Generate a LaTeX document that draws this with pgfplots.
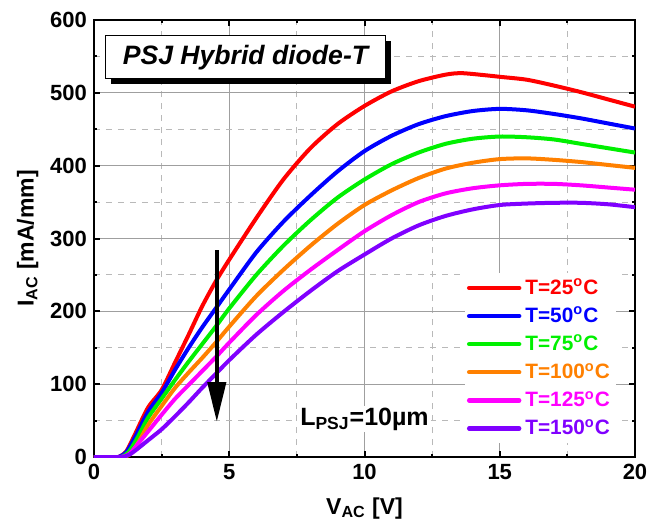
\documentclass[border=0pt]{standalone}
\usepackage{fontspec}
\setmainfont{Liberation Sans}
\usepackage{pgfplots}
\pgfplotsset{compat=1.18}
\usetikzlibrary{arrows.meta,shadows}

\definecolor{cA}{RGB}{255,0,0}
\definecolor{cB}{RGB}{0,0,255}
\definecolor{cC}{RGB}{0,240,0}
\definecolor{cD}{RGB}{255,128,0}
\definecolor{cE}{RGB}{255,0,255}
\definecolor{cF}{RGB}{128,0,255}

\begin{document}
\begin{tikzpicture}
\begin{axis}[
    name=ax,
    scale only axis,
    width=270.5pt, height=218.5pt,
    xmin=0, xmax=20, ymin=0, ymax=600,
    xtick={0,5,10,15,20},
    ytick={0,100,...,600},
    minor x tick num=1, minor y tick num=1,
    grid=both,
    major grid style={gray!75, line width=0.5pt},
    minor grid style={gray!55, dashed, line width=0.5pt},
    tick align=inside,
    major tick length=3pt, minor tick length=1.5pt,
    tick style={black, line width=1pt},
    axis line style={black, line width=1pt},
    /pgf/number format/assume math mode=true,
    ticklabel style={font=\fontsize{11}{13}\selectfont\bfseries},
    xlabel={V\textsubscript{AC} [V]},
    ylabel={I\textsubscript{AC} [mA/mm]},
    label style={font=\fontsize{11.5}{13}\selectfont\bfseries},
    xlabel style={yshift=-2pt},
    ylabel style={yshift=-1pt},
    legend cell align=left,
    legend style={at={(rel axis cs:0.685,0.03)}, anchor=south west,
        draw=none, fill=white, font=\fontsize{10.4}{12}\selectfont\bfseries,
        row sep=1pt, inner sep=1pt},
    legend image code/.code={\draw[#1, line width=2.2pt, line cap=round] (0pt,0pt) -- (25pt,0pt);},
    every axis plot/.append style={line width=2pt, smooth, tension=0.45},
]
\addplot[cA] coordinates {
(0,0) (0.5,0) (0.9,0) (1.2,8) (1.5,30) (2,68) (2.5,92) (3,130) (3.5,168) (4,207) (4.5,241) (5,271)
(6,328) (7,381) (8,424) (9,457) (10,482) (11,502) (12,516) (13,525) (13.6,527) (14.5,524) (15,522)
(16,518) (17,510) (18,501) (19,491) (20,481)};
\addlegendentry{\textcolor{cA}{T=25\textsuperscript{o}C}}
\addplot[cB] coordinates {
(0,0) (0.5,0) (0.9,0) (1.2,7) (1.5,26) (2,62) (2.5,88) (3,120) (3.5,150) (4,178) (4.5,204) (5,230)
(6,281) (7,323) (8,359) (9,392) (10,420) (11,441) (12,457) (13,468) (14,475) (15,478) (16,476)
(17,471) (18,465) (19,458) (20,451)};
\addlegendentry{\textcolor{cB}{T=50\textsuperscript{o}C}}
\addplot[cC] coordinates {
(0,0) (0.5,0) (1.0,0) (1.3,8) (1.6,26) (2,54) (2.5,80) (3,106) (3.5,131) (4,155) (4.5,179) (5,204)
(6,250) (7,290) (8,325) (9,356) (10,381) (11,402) (12,418) (13,430) (14,437) (15,440) (16,439)
(17,436) (18,430) (19,424) (20,418)};
\addlegendentry{\textcolor{cC}{T=75\textsuperscript{o}C}}
\addplot[cD] coordinates {
(0,0) (0.5,0) (1.1,0) (1.4,6) (1.7,24) (2,44) (2.5,70) (3,95) (3.5,116) (4,136) (4.5,157) (5,179)
(6,221) (7,257) (8,290) (9,320) (10,346) (11,366) (12,383) (13,396) (14,404) (15,409) (16,410)
(17,408) (18,405) (19,401) (20,397)};
\addlegendentry{\textcolor{cD}{T=100\textsuperscript{o}C}}
\addplot[cE] coordinates {
(0,0) (0.5,0) (1.0,0) (1.3,4) (1.6,17) (2,35) (2.5,58) (3,80) (3.5,99) (4,118) (4.5,137) (5,157)
(6,195) (7,228) (8,257) (9,284) (10,310) (11,332) (12,350) (13,362) (14,369) (15,373) (16,375)
(17,375) (18,373) (19,370) (20,367)};
\addlegendentry{\textcolor{cE}{T=125\textsuperscript{o}C}}
\addplot[cF] coordinates {
(0,0) (0.5,0) (1.0,0) (1.3,3) (1.6,11) (2,23) (2.5,38) (3,56) (3.5,75) (4,95) (4.5,114) (5,133)
(6,168) (7,199) (8,228) (9,255) (10,278) (11,300) (12,318) (13,331) (14,340) (15,346) (16,348)
(17,349) (18,349) (19,347) (20,343)};
\addlegendentry{\textcolor{cF}{T=150\textsuperscript{o}C}}

\draw[black, line width=2.2pt, -{Triangle[width=9pt,length=20pt]}] (axis cs:4.54,284) -- (axis cs:4.54,48);
\node[font=\fontsize{12.5}{14}\selectfont\bfseries, fill=white, inner sep=1pt] at (axis cs:10,52) {L\textsubscript{PSJ}=10µm};
\node[draw=black, line width=0.5pt, fill=white, minimum width=140pt, minimum height=21.5pt,
      font=\fontsize{13.3}{15}\selectfont\bfseries\itshape, inner sep=1pt,
      drop shadow={shadow xshift=2.8pt, shadow yshift=-2.8pt, fill=black, opacity=1}]
      at (axis cs:5.6,549) {PSJ Hybrid diode-T};
\end{axis}
\path ([xshift=-47pt,yshift=-33pt]ax.south west) rectangle ([xshift=12pt,yshift=10pt]ax.north east);
\end{tikzpicture}
\end{document}
